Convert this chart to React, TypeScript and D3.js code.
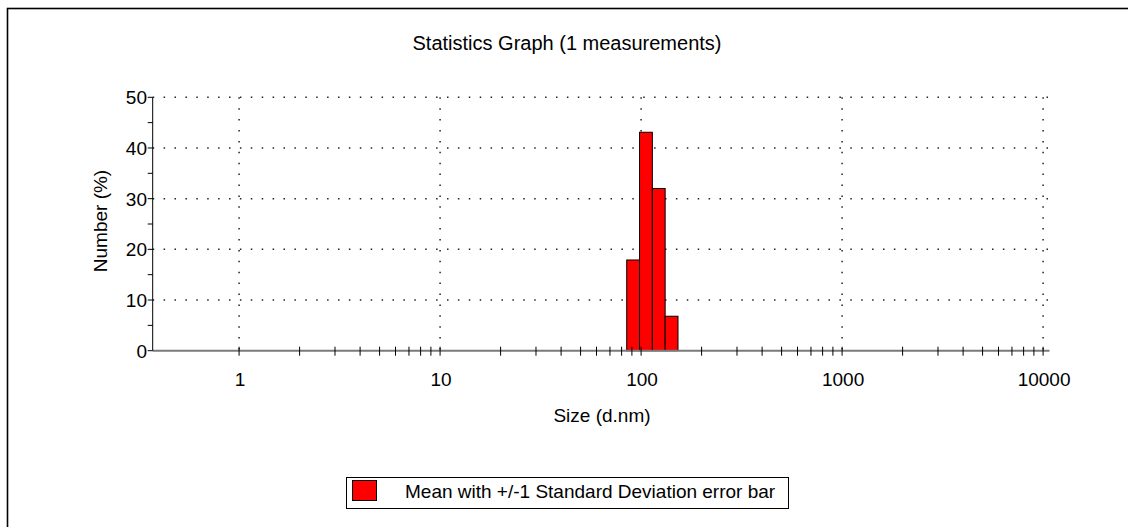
import React from "react";
import * as d3 from "d3";

const sizes = [91.28, 105.7, 122.4, 141.8];
const numbers = [17.9, 43.1, 32.0, 6.8];
const binRatio = 1.1581;
const xMajorTicks = [1, 10, 100, 1000, 10000];
const xTickLabels = ["1", "10", "100", "1000", "10000"];
const yMajorTicks = [0, 10, 20, 30, 40, 50];
const yMinorTicks = [5, 15, 25, 35, 45];
const title = "Statistics Graph (1 measurements)";
const xTitle = "Size (d.nm)";
const yTitle = "Number (%)";
const legendLabel = "Mean with +/-1 Standard Deviation error bar";

const W = 1128;
const H = 527;
const FONT = "Arial, 'Liberation Sans', sans-serif";

export default function App() {
  const x = d3.scaleLog().domain([0.3717, 10761]).range([152.7, 1049.5]);
  const y = d3.scaleLinear().domain([0, 50]).range([350.7, 97.3]);
  const minorX: number[] = [];
  for (let d = 1; d <= 1000; d *= 10) {
    for (let k = 2; k <= 9; k++) minorX.push(d * k);
  }
  const allX = [...xMajorTicks, ...minorX];
  const x0 = x.range()[0];
  const x1 = x.range()[1];
  const half = Math.sqrt(binRatio);
  return (
    <svg
      width={W}
      height={H}
      style={{ position: "absolute", left: 0, top: 0, background: "#fff" }}
      fontFamily={FONT}
    >
      <rect x={7.5} y={8.5} width={W + 20} height={H + 20} fill="none" stroke="#000" strokeWidth={1.6} />
      <text x={567} y={50} textAnchor="middle" fontSize={20} fill="#000">
        {title}
      </text>
      {/* horizontal grid */}
      {yMajorTicks.filter((v) => v > 0).map((v) => (
        <line key={"hg" + v} x1={x0} x2={1052} y1={y(v)} y2={y(v)} stroke="#222" strokeWidth={1.5} strokeDasharray="1.5 9.4" />
      ))}
      {/* vertical grid */}
      {xMajorTicks.map((v) => (
        <line key={"vg" + v} x1={x(v)} x2={x(v)} y1={y(50)} y2={y(0)} stroke="#222" strokeWidth={1.5} strokeDasharray="1.5 9.4" />
      ))}
      {/* bars */}
      {sizes.map((s, i) => (
        <rect
          key={"b" + i}
          x={x(s / half)}
          y={y(numbers[i])}
          width={x(s * half) - x(s / half)}
          height={y(0) - y(numbers[i])}
          fill="#ff0000"
          stroke="#000"
          strokeWidth={1}
        />
      ))}
      {/* x axis */}
      <line x1={x0} x2={x1} y1={y(0)} y2={y(0)} stroke="#7a7a7a" strokeWidth={2} />
      {allX.map((v) => (
        <line key={"xt" + v} x1={x(v)} x2={x(v)} y1={y(0) - 4} y2={y(0) + 5} stroke="#000" strokeWidth={1} />
      ))}
      {xMajorTicks.map((v, i) => (
        <text key={"xl" + v} x={x(v) + 1} y={386} textAnchor="middle" fontSize={19} fill="#000">
          {xTickLabels[i]}
        </text>
      ))}
      {/* y axis */}
      <line x1={x0} x2={x0} y1={y(50)} y2={y(0)} stroke="#000" strokeWidth={1} />
      {[...yMajorTicks, ...yMinorTicks].map((v) => (
        <line key={"yt" + v} x1={x0 - 5} x2={x0} y1={y(v)} y2={y(v)} stroke="#000" strokeWidth={1} />
      ))}
      {yMajorTicks.map((v) => (
        <text key={"yl" + v} x={147} y={y(v) + 7} textAnchor="end" fontSize={19} fill="#000">
          {v}
        </text>
      ))}
      <text x={602} y={422} textAnchor="middle" fontSize={19} fill="#000">
        {xTitle}
      </text>
      <text transform="translate(107,221) rotate(-90)" textAnchor="middle" fontSize={19} fill="#000">
        {yTitle}
      </text>
      {/* legend */}
      <rect x={346.5} y={477.5} width={442} height={31} fill="#fff" stroke="#000" strokeWidth={1} />
      <rect x={352.5} y={480.5} width={24} height={20} fill="#ff0000" stroke="#000" strokeWidth={1} />
      <text x={405} y={498} fontSize={19} fill="#000">
        {legendLabel}
      </text>
    </svg>
  );
}
